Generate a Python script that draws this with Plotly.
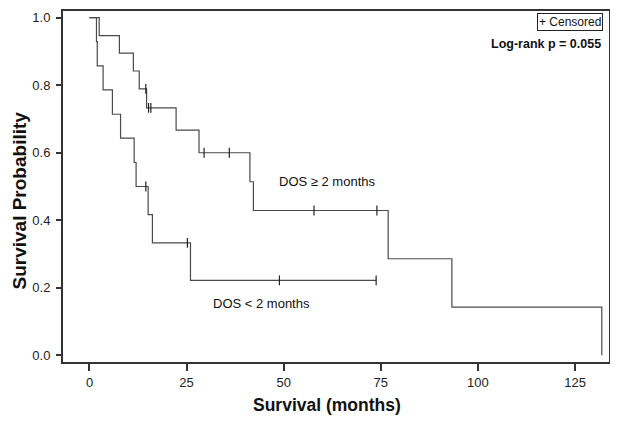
import plotly.graph_objects as go

# Kaplan-Meier step data (months, survival probability)
lower_times = [0, 1.8, 2.0, 3.5, 5.9, 8.0, 11.5, 12.0, 15.1, 16.2, 26.0, 73.8]
lower_surv = [1.0, 0.929, 0.857, 0.786, 0.714, 0.643, 0.571, 0.5, 0.417, 0.333, 0.222, 0.222]
lower_censor_t = [14.5, 25.2, 48.9, 73.8]
lower_censor_s = [0.5, 0.333, 0.222, 0.222]

upper_times = [0, 2.5, 7.7, 11.3, 12.8, 14.7, 22.3, 28.2, 41.3, 42.2, 76.9, 93.3, 131.9]
upper_surv = [1.0, 0.947, 0.895, 0.842, 0.789, 0.733, 0.667, 0.6, 0.514, 0.429, 0.286, 0.143, 0.0]
upper_censor_t = [14.5, 15.2, 15.8, 29.5, 36.0, 57.8, 74.0]
upper_censor_s = [0.789, 0.733, 0.733, 0.6, 0.6, 0.429, 0.429]

x_ticks = [0, 25, 50, 75, 100, 125]
y_ticks = [0.0, 0.2, 0.4, 0.6, 0.8, 1.0]

line_col = "#4a4a4a"
font_fam = "Arial, Liberation Sans, sans-serif"

fig = go.Figure()
for t, s in [(lower_times, lower_surv), (upper_times, upper_surv)]:
    fig.add_trace(go.Scatter(x=t, y=s, mode="lines", line=dict(shape="hv", color=line_col, width=1.2),
                             showlegend=False, hoverinfo="skip"))
for t, s in [(lower_censor_t, lower_censor_s), (upper_censor_t, upper_censor_s)]:
    fig.add_trace(go.Scatter(x=t, y=s, mode="markers",
                             marker=dict(symbol="line-ns", size=7, line=dict(color="#222", width=1.2)),
                             showlegend=False, hoverinfo="skip"))

axis_common = dict(showgrid=False, zeroline=False, showline=True, mirror=True,
                   linecolor="#333", linewidth=2, ticks="outside", tickcolor="#333",
                   tickwidth=1.5, tickfont=dict(family=font_fam, size=13, color="#222"))

# page body has an 8px default margin: figure is sized/positioned to compensate
fig.update_layout(
    width=610, height=413,
    margin=dict(l=55, r=9, t=1, b=59),
    paper_bgcolor="white", plot_bgcolor="white",
    xaxis=dict(range=[-6.82, 133.75], tickvals=x_ticks, ticklen=7, **axis_common),
    yaxis=dict(range=[-0.0197, 1.0197], tickvals=y_ticks, tickformat=".1f", ticklen=5,
               ticklabelstandoff=3, **axis_common),
    annotations=[
        dict(text="<b>Survival (months)</b>", xref="paper", yref="paper", x=0.4835, y=-0.1218,
             xanchor="center", yanchor="middle", showarrow=False,
             font=dict(family=font_fam, size=17.5, color="#111")),
        dict(text="<b>Survival Probability</b>", xref="paper", yref="paper", x=-0.0788, y=0.46,
             xanchor="center", yanchor="middle", textangle=-90, showarrow=False,
             font=dict(family=font_fam, size=19, color="#111")),
        dict(text="+ Censored", xref="paper", yref="paper", x=0.9277, y=0.9683,
             xanchor="center", yanchor="middle", showarrow=False, bordercolor="#222",
             borderwidth=1, borderpad=1, bgcolor="white",
             font=dict(family=font_fam, size=12, color="#111")),
        dict(text="<b>Log-rank p = 0.055</b>", xref="paper", yref="paper", x=0.9885, y=0.9065,
             xanchor="right", yanchor="middle", showarrow=False,
             font=dict(family=font_fam, size=12.5, color="#111")),
        dict(text="DOS ≥ 2 months", x=61.3, y=0.516, xanchor="center", yanchor="middle",
             showarrow=False, font=dict(family=font_fam, size=13, color="#111")),
        dict(text="DOS < 2 months", x=44.4, y=0.153, xanchor="center", yanchor="middle",
             showarrow=False, font=dict(family=font_fam, size=13, color="#111")),
    ],
)

fig.write_html("out.html")
